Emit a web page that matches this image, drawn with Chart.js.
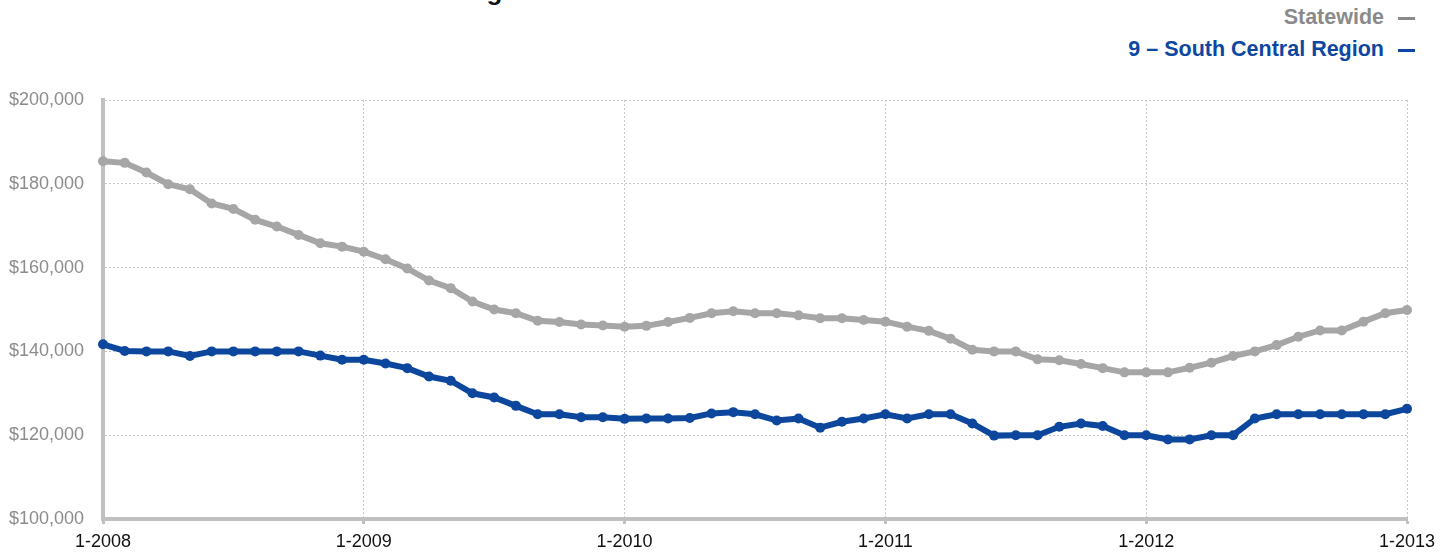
<!DOCTYPE html>
<html>
<head>
<meta charset="utf-8">
<title>Median Sales Price</title>
<script src="https://cdn.jsdelivr.net/npm/chart.js@4"></script>
<style>
  body { margin: 0; background: #fff; overflow: hidden; }
  #wrap { position: relative; width: 1450px; height: 552px; overflow: hidden; font-family: "Liberation Sans", Arial, sans-serif; }
  #myChart { position: absolute; left: 0; top: 0; }
  .title { position: absolute; left: 30px; top: -22px; font-size: 26px; font-weight: bold; color: #111; white-space: nowrap; line-height: 26px; }
  .key { position: absolute; right: 35px; font-size: 21.5px; font-weight: bold; white-space: nowrap; line-height: 24px; }
  .key .dash { display: inline-block; width: 17px; height: 3px; margin-left: 14px; vertical-align: middle; }
</style>
</head>
<body>
<div id="wrap">
  <div class="title">Historical Median Sales Price - Rolling 12-Month Calculation</div>
  <div class="key" style="top:5px;color:#8a8a8a">Statewide<span class="dash" style="background:#8a8a8a"></span></div>
  <div class="key" style="top:37px;color:#0d47a1">9 – South Central Region<span class="dash" style="background:#0d47a1"></span></div>
  <canvas id="myChart" width="1450" height="552"></canvas>
</div>
<script>
// year ticks shown on the x axis, one point per month in between
const tickLabels = ['1-2008', '1-2009', '1-2010', '1-2011', '1-2012', '1-2013'];
const years = [2008, 2009, 2010, 2011, 2012];

let months = [];
for (let y of years) {
    for (let m = 1; m <= 12; m++) months.push(m + '-' + y);
}
months.push('1-2013');

// rolling 12-month median sales price
const statewide = [
    185400, 185000, 182700, 179900, 178700, 175300, 174000, 171400, 169800, 167800, 165800, 165000,
    163800, 162000, 159800, 156900, 155100, 151900, 150000, 149100, 147300, 147000, 146400, 146200,
    145900, 146100, 147000, 148000, 149100, 149600, 149100, 149100, 148600, 147900, 147900, 147500,
    147100, 145900, 144900, 143000, 140400, 140000, 140000, 138100, 137900, 137000, 136000, 135000,
    135000, 135000, 136100, 137300, 138900, 140000, 141500, 143500, 145000, 145000, 147100, 149100,
    149900
];
const southCentral = [
    141700, 140100, 140000, 140000, 138900, 140000, 140000, 140000, 140000, 140000, 139000, 138000,
    138000, 137100, 136000, 134000, 133000, 130000, 129000, 127000, 125000, 125000, 124300, 124300,
    123900, 124000, 124000, 124100, 125200, 125500, 125000, 123500, 124000, 121800, 123200, 124000,
    125000, 124000, 125000, 125000, 122800, 119900, 120000, 120000, 122000, 122800, 122200, 120000,
    120000, 119000, 119000, 120000, 120000, 124000, 125000, 125000, 125000, 125000, 125000, 125000,
    126300
];

const gray = '#a6a6a6';
const blue = '#0c479d';

const ctx = document.getElementById('myChart').getContext('2d');
const myChart = new Chart(ctx, {
    type: 'line',
    data: {
        labels: months,
        datasets: [{
            label: 'Statewide',
            data: statewide,
            borderColor: gray,
            backgroundColor: gray,
            borderWidth: 6,
            pointRadius: 5,
            pointBorderWidth: 0,
            tension: 0
        }, {
            label: '9 – South Central Region',
            data: southCentral,
            borderColor: blue,
            backgroundColor: blue,
            borderWidth: 6,
            pointRadius: 5,
            pointBorderWidth: 0,
            tension: 0
        }]
    },
    options: {
        responsive: false,
        animation: false,
        devicePixelRatio: 1,
        layout: { padding: { top: 100, right: 43, left: 0, bottom: 0 } },
        plugins: {
            legend: { display: false },
            tooltip: { enabled: false }
        },
        scales: {
            x: {
                afterFit: function (scale) { scale.height = 33; },
                grid: {
                    color: '#c8c8c8',
                    lineWidth: 1,
                    tickLength: 5,
                    tickWidth: 3,
                    tickColor: '#c0c0c0'
                },
                border: { color: '#c0c0c0', width: 4, dash: [2, 2] },
                ticks: {
                    autoSkip: false,
                    maxRotation: 0,
                    padding: 7,
                    color: '#111',
                    font: { family: '"Liberation Sans", Arial, sans-serif', size: 18 },
                    callback: function (val, i) {
                        let lbl = this.getLabelForValue(val);
                        return tickLabels.includes(lbl) ? lbl : null;
                    }
                }
            },
            y: {
                min: 100000,
                max: 200000,
                afterFit: function (scale) { scale.width = 103; },
                grid: { color: '#c8c8c8', lineWidth: 1, drawTicks: false },
                border: { color: '#c0c0c0', width: 4, dash: [2, 2] },
                ticks: {
                    stepSize: 20000,
                    padding: 19,
                    color: '#8c8c8c',
                    font: { family: '"Liberation Sans", Arial, sans-serif', size: 18 },
                    callback: function (val) { return '$' + val.toLocaleString('en-US'); }
                }
            }
        }
    }
});
</script>
</body>
</html>
